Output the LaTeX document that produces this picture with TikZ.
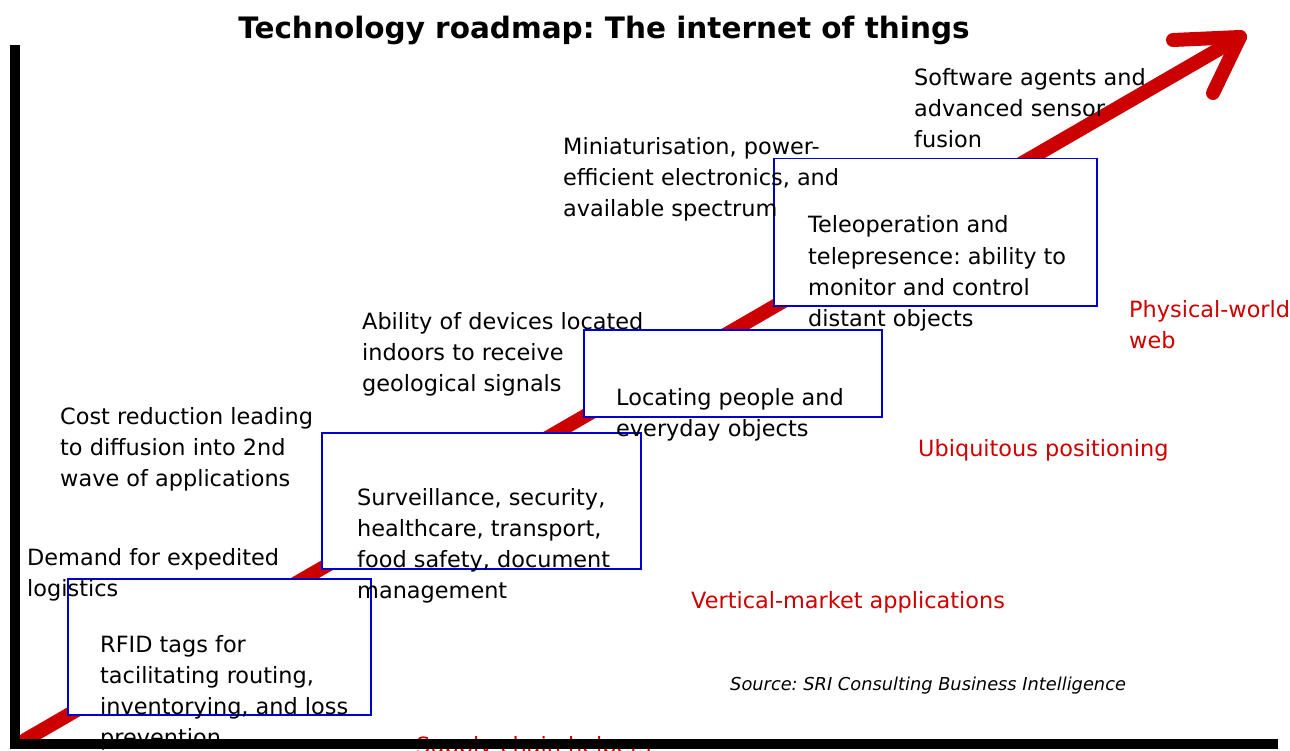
\documentclass[tikz,border=0pt]{standalone}
\usepackage{fontspec}
\setmainfont{DejaVu Sans}
\frenchspacing
\definecolor{roadred}{HTML}{CC0000}
\definecolor{roadblue}{HTML}{0000CC}
\tikzset{
	stagebox/.style={draw=roadblue,fill=white,line width=1.5pt,inner sep=0pt,anchor=north west},
	roadtext/.style={align=left,anchor=base west,inner sep=0pt,font=\fontsize{22.4}{31}\selectfont},
	markettext/.style={roadtext,text=roadred},
}
\begin{document}
\begin{tikzpicture}[x=1pt,y=-1pt]
	\useasboundingbox (0,0) rectangle (1290,751); % Fixes the page...

		\coordinate (Start) at (25,740);
		\coordinate (Tip)   at (1240,37);
		\coordinate (WingA) at (1173,40);
		\coordinate (WingB) at (1213,93);
		\draw[roadred,line width=14pt,line cap=round] (Start) -- (Tip);% Growth arrow
		\draw[roadred,line width=14pt,line cap=round,line join=round] (WingA) -- (Tip) -- (WingB);

		\node[stagebox,minimum width=303,minimum height=136] (BoxSupply)   at (67,578)  {};
		\node[stagebox,minimum width=319,minimum height=136] (BoxVertical) at (321,432) {};
		\node[stagebox,minimum width=298,minimum height=87]  (BoxPosition) at (583,329) {};
		\node[stagebox,minimum width=323,minimum height=147] (BoxWeb)      at (773,158) {};

		% base anchor = baseline of the last line
		\node[roadtext] (TextSupply)   at (100,745) {RFID tags for\\tacilitating routing,\\inventorying, and loss\\prevention};
		\node[roadtext] (TextVertical) at (357,598) {Surveillance, security,\\healthcare, transport,\\food safety, document\\management};
		\node[roadtext] (TextPosition) at (616,436) {Locating people and\\everyday objects};
		\node[roadtext] (TextWeb)      at (808,326) {Teleoperation and\\telepresence: ability to\\monitor and control\\distant objects};

		\node[roadtext] (DriverSupply)   at (27,596)  {Demand for expedited\\logistics};
		\node[roadtext] (DriverVertical) at (60,486)  {Cost reduction leading\\to diffusion into 2nd\\wave of applications};
		\node[roadtext] (DriverPosition) at (362,391) {Ability of devices located\\indoors to receive\\geological signals};
		\node[roadtext] (DriverWeb)      at (563,217) {Miniaturisation, power-\\efficient electronics, and\\available spectrum};
		\node[roadtext] (DriverAgents)   at (914,148) {Software agents and\\advanced sensor\\fusion};

		\node[markettext] (MarketSupply)   at (416,753)  {Supply-chain helpers};
		\node[markettext] (MarketVertical) at (691,608)  {Vertical-market applications};
		\node[markettext] (MarketPosition) at (918,456)  {Ubiquitous positioning};
		\node[markettext] (MarketWeb)      at (1129,348) {Physical-world\\web};

		\node[roadtext,font=\fontsize{17.8}{20}\selectfont\itshape] (Source) at (730,690) {Source: SRI Consulting Business Intelligence};
		\node[anchor=base,inner sep=0pt,font=\fontsize{29.5}{34}\selectfont\bfseries] (Title) at (604,39) {Technology roadmap: The internet of things};

		\coordinate (Origin)   at (15,744);
		\coordinate (YAxisMax) at (15,45);
		\coordinate (XAxisMax) at (1278,744);
		\draw[line width=10pt] (YAxisMax) -- (Origin) -- (XAxisMax);% Draw both axes
	\end{tikzpicture}
\end{document}
